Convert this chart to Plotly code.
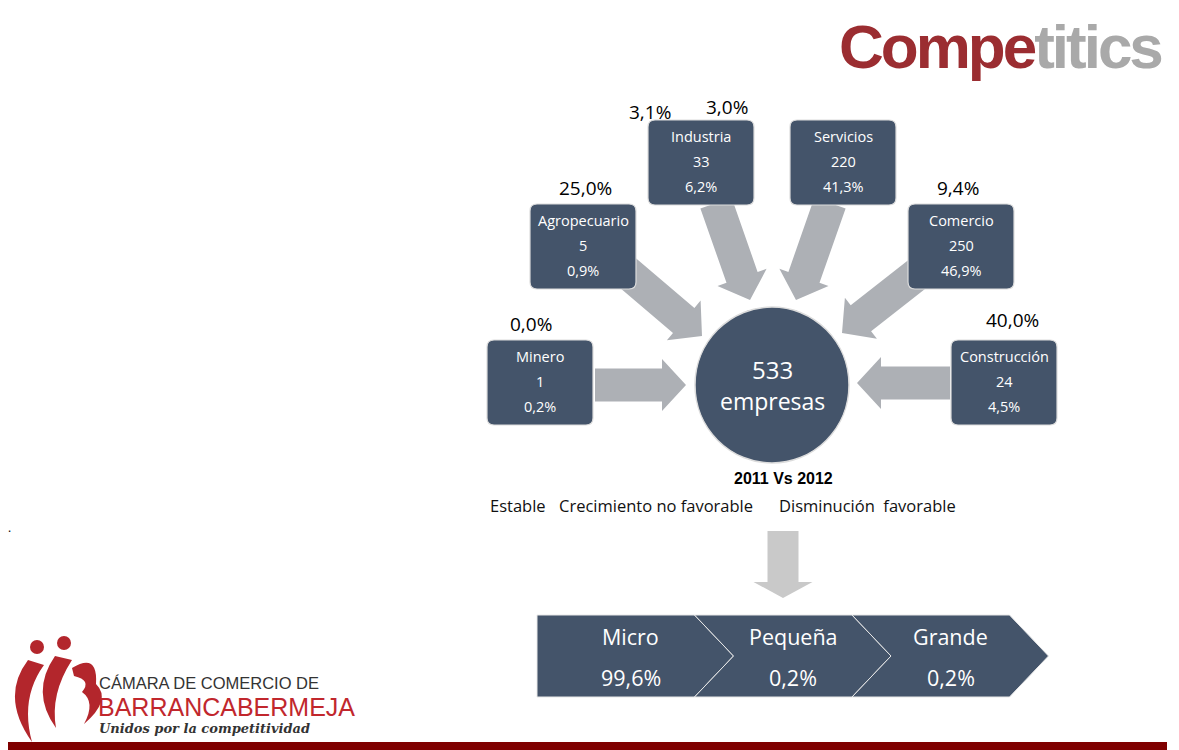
import numpy as np
import plotly.graph_objects as go

# ---------------- data ----------------
sectors = ["Minero", "Agropecuario", "Industria", "Servicios", "Comercio", "Construcción"]
companies = [1, 5, 33, 220, 250, 24]
share_pct = [0.2, 0.9, 6.2, 41.3, 46.9, 4.5]
change_pct = [0.0, 25.0, 3.1, 3.0, 9.4, 40.0]
total_companies = 533
size_classes = ["Micro", "Pequeña", "Grande"]
size_share = [99.6, 0.2, 0.2]
legend_items = ["Estable", "Crecimiento no favorable", "Disminución  favorable"]
comparison_label = "2011 Vs 2012"

# ---------------- layout constants ----------------
W, H = 1179, 750
OFF = 8  # page body margin
BOX_FILL = "#44546a"
ARROW_FILL = "#adb0b5"
FONT = "Open Sans, Noto Sans, sans-serif"

box_x0 = [487, 530, 648, 790, 908, 951]
box_y0 = [340, 204, 120, 120, 204, 340]
BOX_W, BOX_H = 106, 85
change_xy = [(531, 324), (585, 188), (650, 112), (727, 107), (958, 188), (1012, 320)]
arrow_from = [(595, 385), (622, 268), (716, 203), (830, 203), (925, 268), (950, 383)]
arrow_to = [(686, 385), (702, 336), (750, 300), (796, 300), (842, 333), (857, 383)]
circle_c, circle_r = (772, 385), (77, 78)
legend_x = [488, 557, 777]
chev_x0, chev_seg, chev_notch, chev_y0, chev_y1 = 537, 157.5, 39, 615, 697
chev_text_dx = [15, 20, 20]


def fmt(v):
    return f"{v:.1f}".replace(".", ",") + "%"


def arrow_path(p0, p1, sw=33, hw=52, hl=24):
    p0 = np.array(p0, float)
    p1 = np.array(p1, float)
    d = p1 - p0
    u = d / np.linalg.norm(d)
    n = np.array([-u[1], u[0]])
    b = p1 - u * hl
    pts = [p0 + n * sw / 2, b + n * sw / 2, b + n * hw / 2, p1,
           b - n * hw / 2, b - n * sw / 2, p0 - n * sw / 2]
    return "M " + " L ".join(f"{x:.1f},{y:.1f}" for x, y in pts) + " Z"


def rrect(x0, y0, x1, y1, r=7):
    return (f"M {x0+r},{y0} L {x1-r},{y0} Q {x1},{y0} {x1},{y0+r} "
            f"L {x1},{y1-r} Q {x1},{y1} {x1-r},{y1} L {x0+r},{y1} "
            f"Q {x0},{y1} {x0},{y1-r} L {x0},{y0+r} Q {x0},{y0} {x0+r},{y0} Z")


shapes = []
ann = []

# arrows into the circle
for p0, p1 in zip(arrow_from, arrow_to):
    shapes.append(dict(type="path", path=arrow_path(p0, p1), fillcolor=ARROW_FILL,
                       line=dict(width=0), layer="above"))

# sector boxes
for i, name in enumerate(sectors):
    x0, y0 = box_x0[i], box_y0[i]
    shapes.append(dict(type="path", path=rrect(x0, y0, x0 + BOX_W, y0 + BOX_H),
                       fillcolor=BOX_FILL, line=dict(color="#dcdcdc", width=1.2), layer="above"))
    cx = x0 + BOX_W / 2
    for k, txt in enumerate([name, str(companies[i]), fmt(share_pct[i])]):
        ann.append(dict(x=cx, y=y0 + 16 + 25 * k, text=txt, showarrow=False,
                        font=dict(family=FONT, size=14.5, color="white"),
                        xanchor="center", yanchor="middle"))

# change labels
for v, (x, y) in zip(change_pct, change_xy):
    ann.append(dict(x=x, y=y, text=fmt(v), showarrow=False,
                    font=dict(family=FONT, size=19, color="black"),
                    xanchor="center", yanchor="middle"))

# central circle
shapes.append(dict(type="circle", x0=circle_c[0] - circle_r[0], x1=circle_c[0] + circle_r[0],
                   y0=circle_c[1] - circle_r[1], y1=circle_c[1] + circle_r[1],
                   fillcolor=BOX_FILL, line=dict(color="#dcdcdc", width=1.5), layer="above"))
ann.append(dict(x=circle_c[0], y=369, text=str(total_companies), showarrow=False,
                font=dict(family=FONT, size=24, color="white"), xanchor="center", yanchor="middle"))
ann.append(dict(x=circle_c[0], y=401, text="empresas", showarrow=False,
                font=dict(family=FONT, size=23, color="white"), xanchor="center", yanchor="middle"))

# comparison + legend texts
ann.append(dict(x=783, y=478, text=f"<b>{comparison_label}</b>", showarrow=False,
                font=dict(family="Liberation Sans, sans-serif", size=16, color="black"),
                xanchor="center", yanchor="middle"))
for x, t in zip(legend_x, legend_items):
    ann.append(dict(x=x, y=505, text=t.replace("  ", "&nbsp;&nbsp;"), showarrow=False,
                    font=dict(family=FONT, size=16.5, color="#111111"),
                    xanchor="left", yanchor="middle"))
ann.append(dict(x=9, y=527, text=".", showarrow=False, font=dict(size=12, color="black"),
                xanchor="center", yanchor="middle"))

# down arrow
shapes.append(dict(type="path", path=arrow_path((783, 531), (783, 598), sw=31, hw=59, hl=16),
                   fillcolor="#c9c9c9", line=dict(width=0), layer="above"))

# chevron process
for i, (lab, v) in enumerate(zip(size_classes, size_share)):
    a = chev_x0 + chev_seg * i
    b = a + chev_seg
    ym = (chev_y0 + chev_y1) / 2
    if i == 0:
        p = f"M {a},{chev_y0} L {b},{chev_y0} L {b+chev_notch},{ym} L {b},{chev_y1} L {a},{chev_y1} Z"
    else:
        p = (f"M {a},{chev_y0} L {b},{chev_y0} L {b+chev_notch},{ym} L {b},{chev_y1} "
             f"L {a},{chev_y1} L {a+chev_notch},{ym} Z")
    shapes.append(dict(type="path", path=p, fillcolor=BOX_FILL,
                       line=dict(color="#e8e8e8", width=1), layer="above"))
    cx = a + chev_seg / 2 + chev_text_dx[i]
    ann.append(dict(x=cx, y=636, text=lab, showarrow=False,
                    font=dict(family=FONT, size=21.5, color="white"), xanchor="center", yanchor="middle"))
    ann.append(dict(x=cx, y=677, text=fmt(v), showarrow=False,
                    font=dict(family=FONT, size=21.5, color="white"), xanchor="center", yanchor="middle"))

# Competitics logo
ann.append(dict(x=1000, y=46, showarrow=False, xanchor="center", yanchor="middle",
                text="<b><span style='color:#9b2d31;letter-spacing:-3px'>Compe</span>"
                     "<span style='color:#a9a9a9;letter-spacing:-3px'>titics</span></b>",
                font=dict(family="Liberation Sans, Arial, sans-serif", size=62)))

# Cámara de Comercio logo
RED = "#b3262c"
shapes += [
    dict(type="circle", x0=30, x1=44, y0=640, y1=654, fillcolor=RED, line=dict(width=0)),
    dict(type="circle", x0=57, x1=71, y0=636, y1=650, fillcolor=RED, line=dict(width=0)),
    dict(type="path", path="M 28,660 Q 0,697 32,742 Q 20,698 44,665 Z", fillcolor=RED, line=dict(width=0)),
    dict(type="path", path="M 55,656 Q 30,692 56,728 Q 50,694 72,660 Z", fillcolor=RED, line=dict(width=0)),
    dict(type="path", path="M 72,668 Q 98,652 96,684 Q 112,700 84,724 Q 96,702 82,692 Q 92,680 74,676 Z",
         fillcolor=RED, line=dict(width=0)),
]
ann.append(dict(x=97, y=683, text="CÁMARA DE COMERCIO DE", showarrow=False, xanchor="left", yanchor="middle",
                font=dict(family="Liberation Sans, Arial, sans-serif", size=16.5, color="#333333")))
ann.append(dict(x=96, y=707, text="BARRANCABERMEJA", showarrow=False, xanchor="left", yanchor="middle",
                font=dict(family="Liberation Sans, Arial, sans-serif", size=25, color="#c1272d")))
ann.append(dict(x=97, y=728, text="<i><b>Unidos por la competitividad</b></i>", showarrow=False,
                xanchor="left", yanchor="middle",
                font=dict(family="DejaVu Serif, serif", size=13, color="#333333")))

# bottom bar
shapes.append(dict(type="rect", x0=8, x1=1167, y0=742, y1=751, fillcolor="#7f0000", line=dict(width=0)))

fig = go.Figure()
fig.add_trace(go.Scatter(x=[OFF, W], y=[OFF, H], mode="markers", marker=dict(opacity=0), hoverinfo="skip",
                         showlegend=False))
fig.update_layout(
    width=W - OFF, height=H - OFF, margin=dict(l=0, r=0, t=0, b=0),
    paper_bgcolor="white", plot_bgcolor="white",
    xaxis=dict(range=[OFF, W], visible=False, fixedrange=True),
    yaxis=dict(range=[H, OFF], visible=False, fixedrange=True),
    shapes=shapes, annotations=ann, showlegend=False,
)
fig.write_html("out.html")
